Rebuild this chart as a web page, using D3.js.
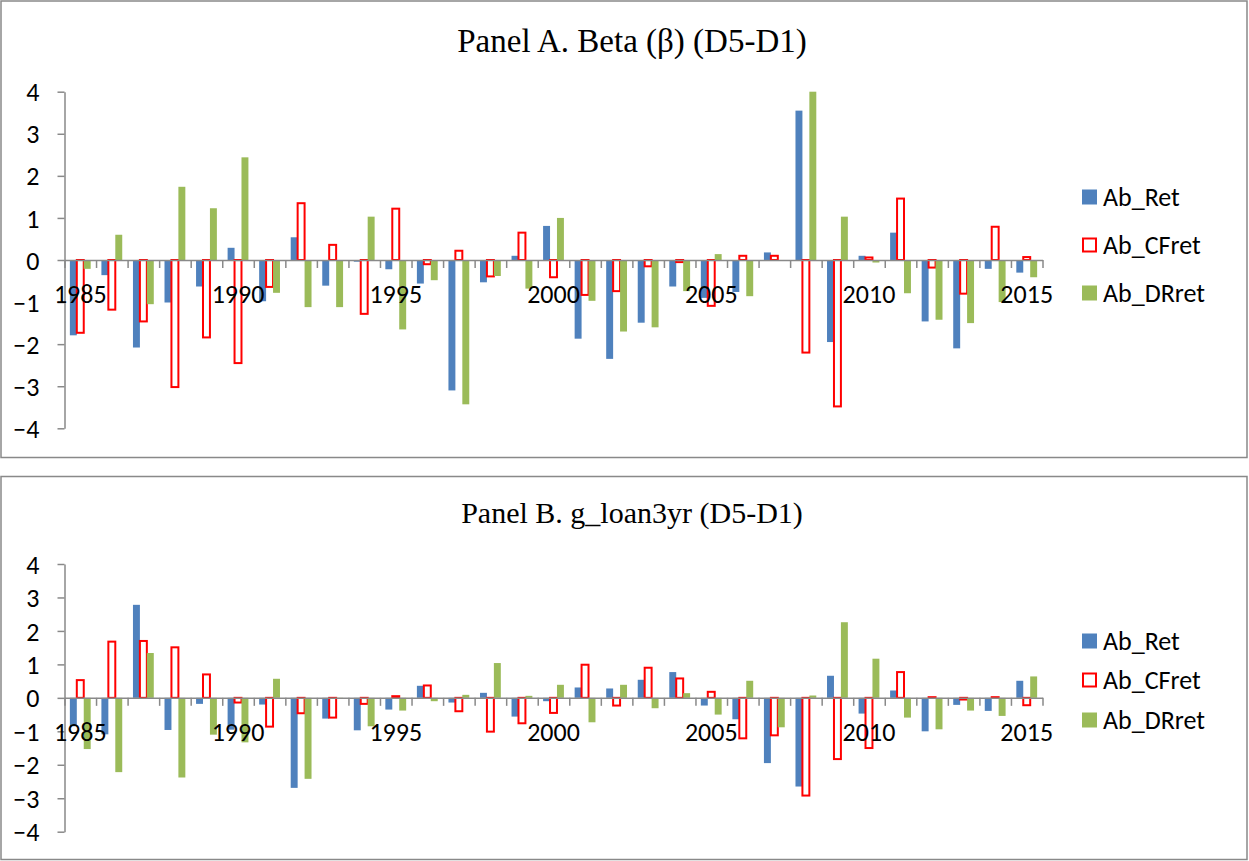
<!DOCTYPE html>
<html>
<head>
<meta charset="utf-8">
<script src="https://cdn.jsdelivr.net/npm/d3@7"></script>
<style>
  body { margin: 0; background: #fff; }
  svg { display: block; }
  .tick text, .legend text { font-family: Calibri, Carlito, "Open Sans", sans-serif; fill: #000; }
  .title { font-family: "Times New Roman", "Liberation Serif", serif; fill: #000; }
</style>
</head>
<body>
<svg id="chart" width="1249" height="861"></svg>
<script>
// categories
const years = [1985, 1986, 1987, 1988, 1989, 1990, 1991, 1992, 1993, 1994,
  1995, 1996, 1997, 1998, 1999, 2000, 2001, 2002, 2003, 2004,
  2005, 2006, 2007, 2008, 2009, 2010, 2011, 2012, 2013, 2014, 2015];
const labelYears = [1985, 1990, 1995, 2000, 2005, 2010, 2015];
const yTicks = [-4, -3, -2, -1, 0, 1, 2, 3, 4];
const seriesNames = ['Ab_Ret', 'Ab_CFret', 'Ab_DRret'];

// Panel A. Beta
const retA = [-1.79, -0.36, -2.08, -1.01, -0.63, 0.29, -0.98, 0.54, -0.61, -0.04,
  -0.22, -0.56, -3.10, -0.53, 0.10, 0.81, -1.87, -2.35, -1.49, -0.63,
  -0.90, -0.76, 0.18, 3.55, -1.95, 0.10, 0.65, -1.46, -2.10, -0.21, -0.30];
const cfA = [-1.73, -1.18, -1.46, -3.02, -1.84, -2.45, -0.64, 1.35, 0.36, -1.28,
  1.22, -0.10, 0.22, -0.39, 0.65, -0.41, -0.83, -0.74, -0.15, -0.05,
  -1.09, 0.10, 0.10, -2.20, -3.48, 0.06, 1.46, -0.18, -0.80, 0.79, 0.07];
const drA = [-0.21, 0.60, -1.05, 1.74, 1.23, 2.44, -0.78, -1.12, -1.12, 1.03,
  -1.65, -0.48, -3.43, -0.38, -0.68, 1.00, -0.97, -1.70, -1.60, -0.74,
  0.14, -0.86, -0.02, 4.00, 1.03, -0.06, -0.79, -1.42, -1.50, -1.00, -0.41];

// Panel B. g_loan3yr
const retB = [-0.85, -1.09, 2.78, -0.96, -0.18, -0.95, -0.20, -2.69, -0.62, -0.97,
  -0.35, 0.36, -0.14, 0.15, -0.56, -0.10, 0.31, 0.28, 0.54, 0.77,
  -0.23, -0.64, -1.95, -2.65, 0.66, -0.47, 0.22, -1.00, -0.21, -0.39, 0.51];
const cfB = [0.53, 1.68, 1.70, 1.51, 0.70, -0.14, -0.86, -0.46, -0.59, -0.18,
  0.05, 0.37, -0.40, -1.01, -0.76, -0.45, 0.99, -0.23, 0.90, 0.58,
  0.18, -1.21, -1.12, -2.92, -1.83, -1.50, 0.77, 0.02, -0.05, 0.02, -0.22];
const drB = [-1.53, -2.22, 1.34, -2.38, -1.10, -1.33, 0.57, -2.42, -0.02, -0.85,
  -0.38, -0.10, 0.09, 1.04, 0.06, 0.39, -0.73, 0.39, -0.31, 0.14,
  -0.50, 0.51, -0.88, 0.07, 2.26, 1.17, -0.59, -0.94, -0.38, -0.54, 0.64];

const AXIS_COLOR = '#898989';
const styles = [
  { fill: '#4f81bd', stroke: 'none', sw: 0 },
  { fill: '#ffffff', stroke: '#ff0000', sw: 2 },
  { fill: '#9bbb59', stroke: 'none', sw: 0 },
];

const svg = d3.select('#chart');

const x = d3.scaleBand().domain(years).range([64.5, 1042.5]).paddingInner(0.34).paddingOuter(0.17);
const xSub = d3.scaleBand().domain(seriesNames).range([0, x.bandwidth()]);
const xEdge = d3.scaleLinear().domain([0, years.length]).range([64.5, 1042.5]);

function drawPanel(opts) {
  const { box, title, titleSize, titleY, yRange, series, legendY } = opts;

  svg.append('rect')
    .attr('x', box[0]).attr('y', box[1]).attr('width', box[2]).attr('height', box[3])
    .attr('fill', '#fff').attr('stroke', AXIS_COLOR).attr('stroke-width', 1.5);

  svg.append('text').attr('class', 'title')
    .attr('x', 632).attr('y', titleY)
    .attr('text-anchor', 'middle')
    .attr('font-size', titleSize)
    .text(title);

  const y = d3.scaleLinear().domain([-4, 4]).range(yRange);
  const g = svg.append('g');

  series.forEach((vals, s) => {
    const st = styles[s];
    g.append('g').selectAll('rect')
      .data(vals.map((v, i) => ({ year: years[i], v })))
      .join('rect')
      .attr('x', d => x(d.year) + xSub(seriesNames[s]))
      .attr('width', xSub.bandwidth())
      .attr('y', d => y(Math.max(0, d.v)))
      .attr('height', d => Math.abs(y(d.v) - y(0)))
      .attr('fill', st.fill)
      .attr('stroke', st.stroke)
      .attr('stroke-width', st.sw);
  });

  // y axis
  const yAxis = g.append('g')
    .attr('transform', `translate(${xEdge(0)},0)`)
    .call(d3.axisLeft(y).tickValues(yTicks).tickSize(7).tickSizeOuter(0).tickPadding(18).tickFormat(d3.format('d')));
  yAxis.selectAll('text').attr('font-size', 26).attr('dy', '0.35em');

  // x axis: ticks between categories
  g.append('g')
    .attr('transform', `translate(0,${y(0)})`)
    .call(d3.axisBottom(xEdge).tickValues(d3.range(years.length + 1)).tickSize(8).tickSizeOuter(0).tickFormat(''));

  // x labels every 5 years
  const xLab = g.append('g')
    .attr('transform', `translate(0,${y(0)})`)
    .call(d3.axisBottom(x).tickValues(labelYears).tickSize(0));
  xLab.select('.domain').remove();
  xLab.selectAll('text').attr('font-size', 26).attr('y', 43).attr('dy', 0);

  g.selectAll('.domain, .tick line').attr('stroke', AXIS_COLOR).attr('stroke-width', 1.5);

  // legend
  const leg = svg.append('g').attr('class', 'legend');
  seriesNames.forEach((name, s) => {
    const st = styles[s];
    const cy = legendY[s];
    leg.append('rect')
      .attr('x', st.sw ? 1083 : 1082).attr('y', st.sw ? cy - 6.5 : cy - 7.5)
      .attr('width', st.sw ? 13 : 15).attr('height', st.sw ? 13 : 15)
      .attr('fill', st.fill).attr('stroke', st.stroke).attr('stroke-width', st.sw);
    leg.append('text')
      .attr('x', 1103).attr('y', cy).attr('dy', '0.35em')
      .attr('font-size', 26)
      .text(name);
  });
}

drawPanel({
  box: [1, 1, 1246, 456.5],
  title: 'Panel A. Beta (\u03b2) (D5-D1)',
  titleSize: 33,
  titleY: 52,
  yRange: [428.3, 91.7],
  series: [retA, cfA, drA],
  legendY: [197, 245, 293],
});

drawPanel({
  box: [1, 476.5, 1246, 383],
  title: 'Panel B. g_loan3yr (D5-D1)',
  titleSize: 30,
  titleY: 523,
  yRange: [831.7, 564],
  series: [retB, cfB, drB],
  legendY: [641, 680, 720],
});
</script>
</body>
</html>
